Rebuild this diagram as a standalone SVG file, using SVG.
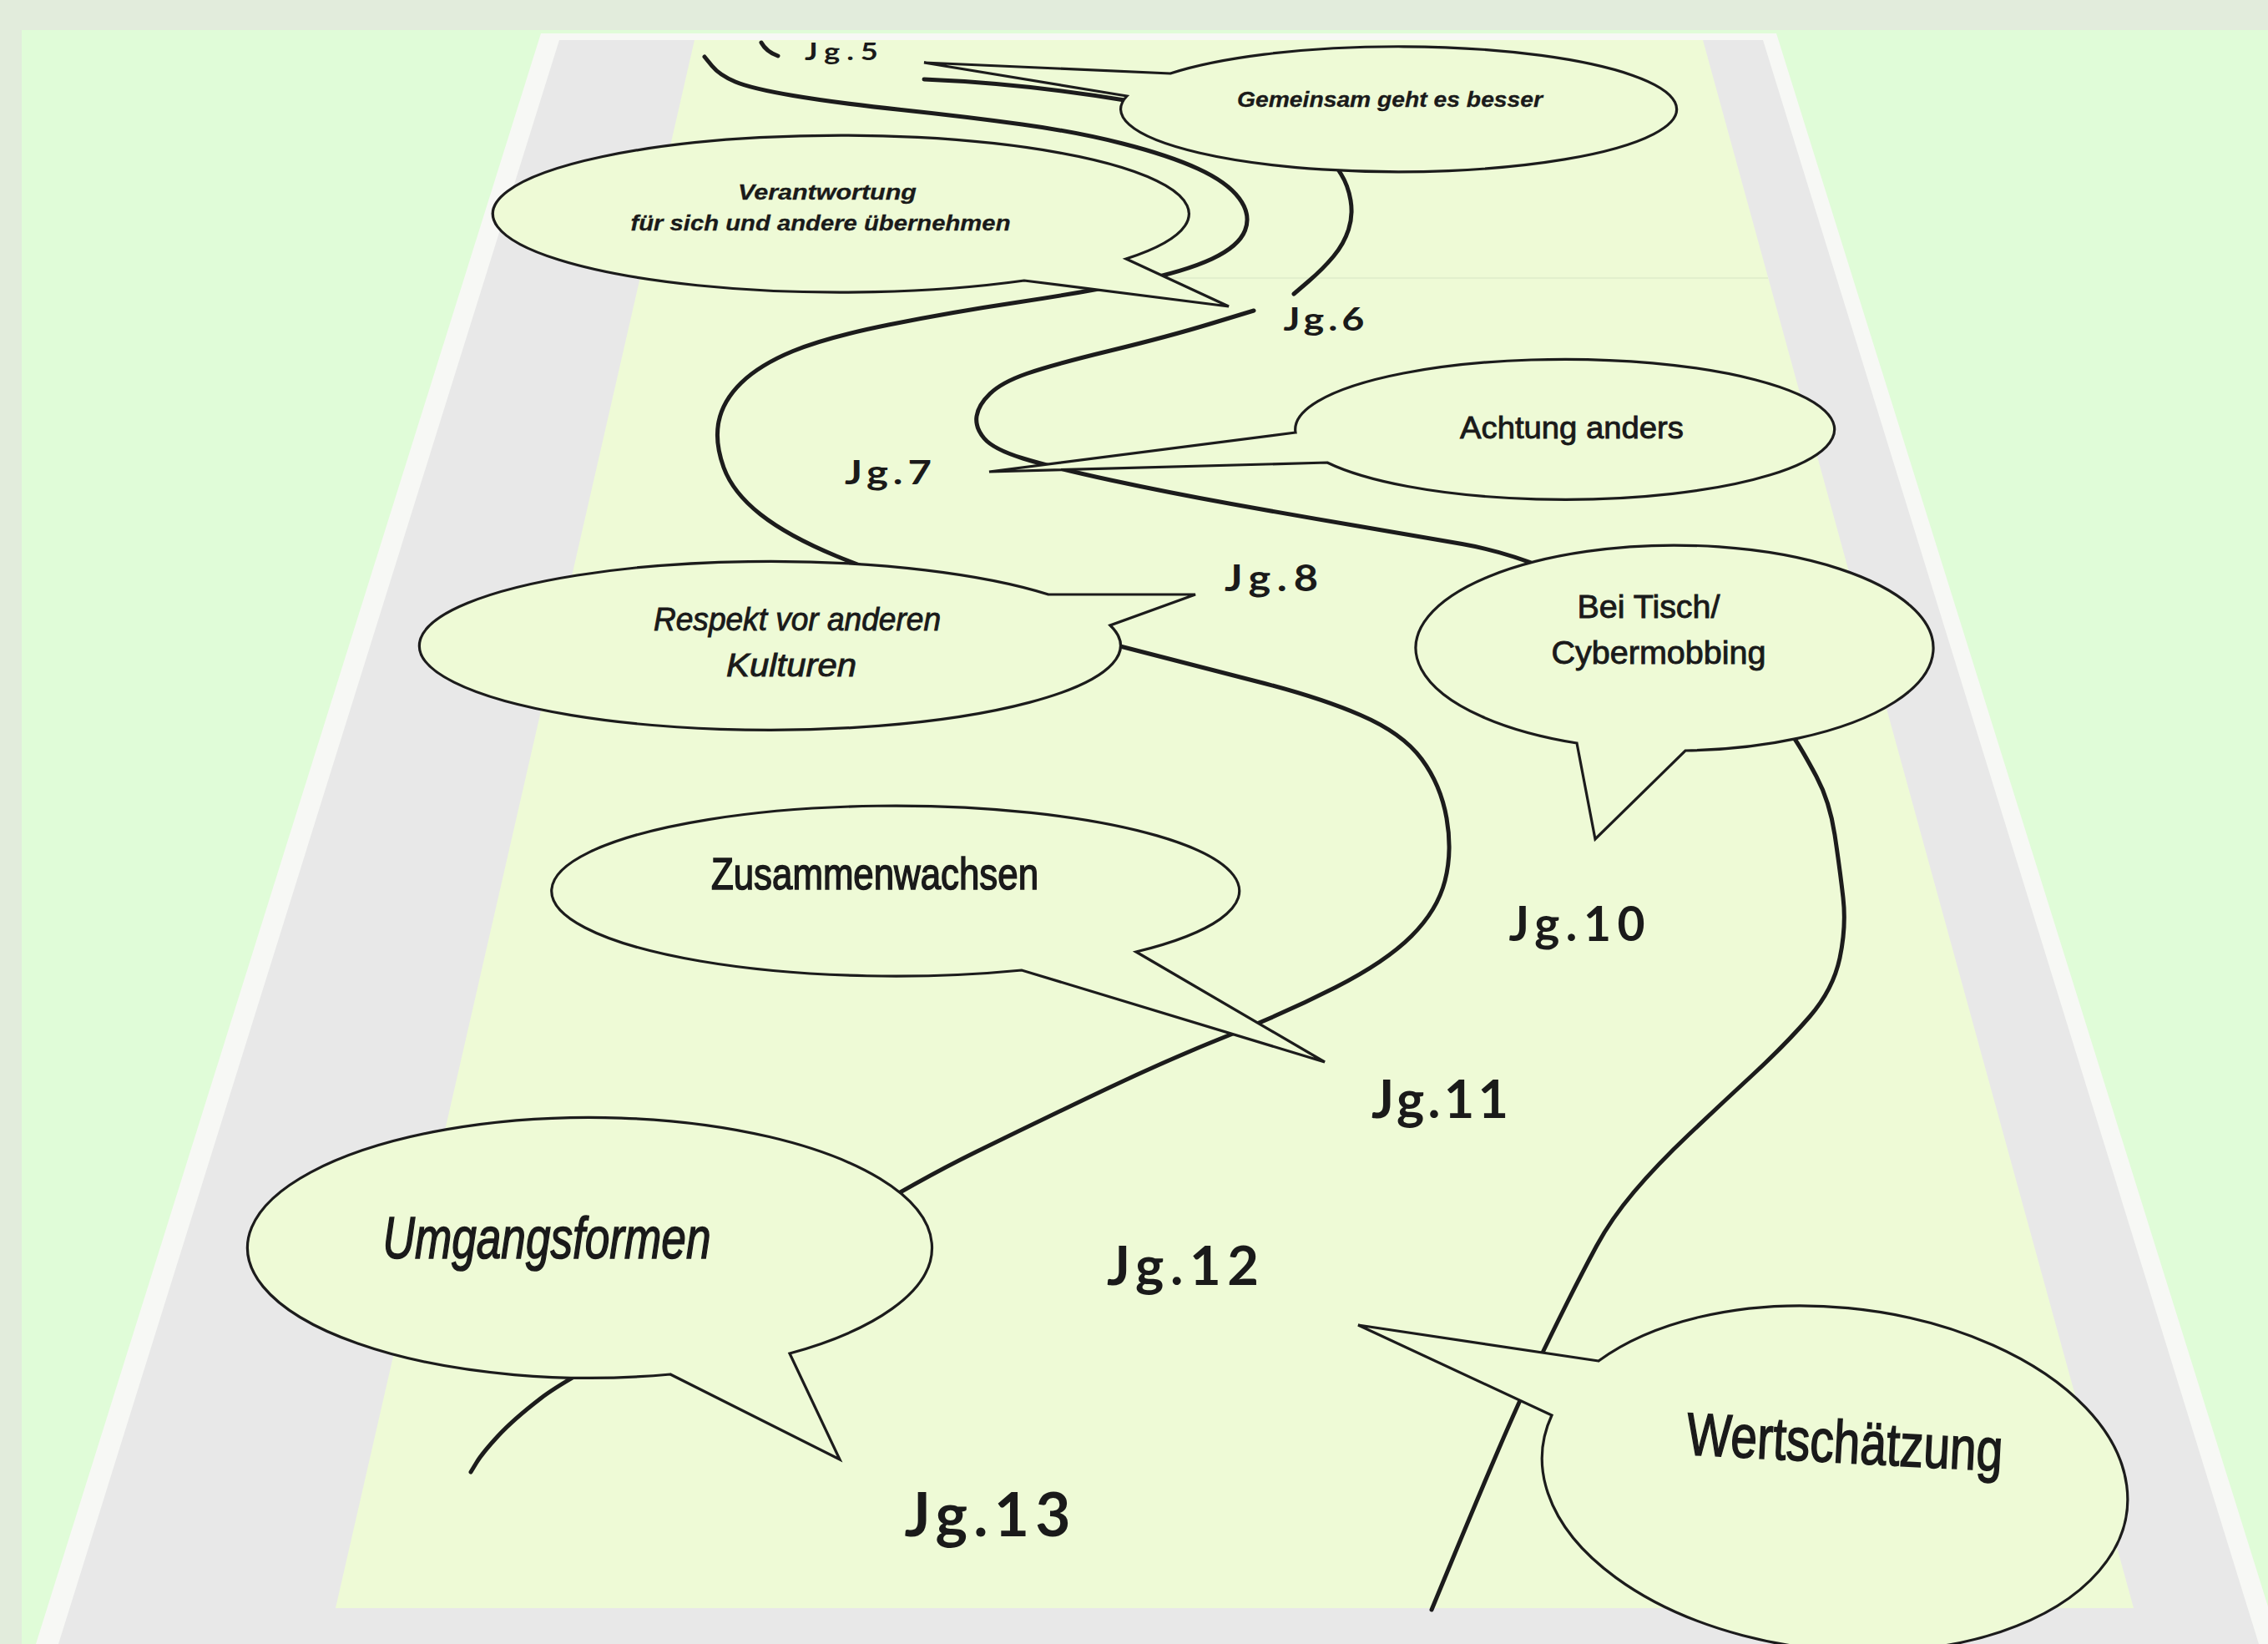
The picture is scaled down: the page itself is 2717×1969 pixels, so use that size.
<svg xmlns="http://www.w3.org/2000/svg" width="2717" height="1969" viewBox="0 0 2717 1969">
<defs>
<style>
.road{fill:none;stroke:#1c1c1c;stroke-width:5;stroke-linejoin:round;stroke-linecap:round}
.bub{fill:#eefad6;stroke:#1c1c1c;stroke-width:3.2;stroke-linejoin:miter}
.bt{font-family:"Liberation Sans",Arial,sans-serif;fill:#1a1a1a;text-anchor:middle;stroke:#1a1a1a}
.it{font-style:italic}
.bd{font-weight:bold;stroke-width:0.3}
.w1{stroke-width:0.9}
.w2{stroke-width:1.6}
.jg{font-family:Lato,"Open Sans","Liberation Sans",sans-serif;font-weight:700;fill:#1a1a1a;text-anchor:middle}
</style>
</defs>
<g id="background">
<rect x="0" y="0" width="2717" height="1969" fill="#e2ecdc"/>
<rect x="26" y="36" width="2691" height="1933" fill="#e0fcd8"/>
<polygon points="648,40 2128,40 2731,1969 43,1969" fill="#f7f8f5"/>
<polygon points="670,48 2112,48 2706,1969 70,1969" fill="#e8e8e8"/>
<polygon points="832,48 2040,48 2556,1926 402,1926" fill="#eefad6"/>
<line x1="767" y1="333" x2="2118" y2="333" stroke="#e2efcd" stroke-width="2"/>
</g>
<g id="connectors">
<path class="road" d="M912,51 Q918,62 932,67"/>
<path class="road" d="M844,68 L853,79 Q862,90 881,98 Q900,106 950,114.5 Q1000,123 1079.5,131.5 Q1159,140 1224.5,149 Q1290,158 1345,172 Q1400,186 1435,202 Q1470,218 1484.5,237.5 Q1499,257 1491.5,276 Q1484,295 1452,310 Q1420,325 1360,337.5 Q1300,350 1219.5,362 Q1139,374 1064.5,389 Q990,404 950,420.5 Q910,437 888,458.5 Q866,480 861,505 Q856,530 867,560 Q878,590 911,616 Q944,642 1002,666 Q1060,690 1155,720 Q1250,750 1342,774 Q1434,798 1507,816.5 Q1580,835 1630,856.5 Q1680,878 1703,909 Q1726,940 1733,980 Q1740,1020 1731,1055 Q1722,1090 1691,1121 Q1660,1152 1600,1182.5 Q1540,1213 1472,1240 Q1404,1267 1327,1303.5 Q1250,1340 1168.5,1380 Q1087,1420 983.5,1485 Q880,1550 780,1600 Q680,1650 647.5,1675 Q615,1700 596.5,1720 Q578,1740 571,1751.5 L564,1763"/>
<path class="road" d="M1107,95 Q1230,100 1360,122"/>
<path class="road" d="M1598,195 L1606.5,208.5 Q1615,222 1618,240 Q1621,258 1615.5,275 Q1610,292 1597.5,307 Q1585,322 1567.5,337 L1550,352"/>
<path class="road" d="M1502,372 L1451,387.5 Q1400,403 1330,420 Q1260,437 1230,447.5 Q1200,458 1186,471.5 Q1172,485 1170,498.5 Q1168,512 1179,525 Q1190,538 1225.5,549 Q1261,560 1330.5,575 Q1400,590 1475,603.5 Q1550,617 1626.5,630 Q1703,643 1751.5,651.5 Q1800,660 1850,680 L1900,700"/>
<path class="road" d="M2140,870 L2150,885 Q2160,900 2176,930 Q2192,960 2198,1000 Q2204,1040 2208,1075 Q2212,1110 2204,1147.5 Q2196,1185 2168,1217.5 Q2140,1250 2100.5,1286.5 Q2061,1323 2023,1359 Q1985,1395 1957.5,1427.5 Q1930,1460 1912.5,1492.5 Q1895,1525 1877.5,1560 Q1860,1595 1840,1636.5 Q1820,1678 1795,1736.5 Q1770,1795 1742.5,1861.5 L1715,1928"/>
</g>
<g id="bubble-gemeinsam">
<path class="bub" d="M1402,88 L1107,75 L1350,115 A333,75 0 1 0 1402,88 Z"/>
<text class="bt it bd" x="1665" y="128" font-size="26" textLength="366" lengthAdjust="spacingAndGlyphs">Gemeinsam geht es besser</text>
</g>
<g id="bubble-verantwortung">
<path class="bub" d="M1349,310 L1472,367 L1227,336 A417,94 0 1 1 1349,310 Z"/>
<text class="bt it bd" x="991" y="239" font-size="26" textLength="214" lengthAdjust="spacingAndGlyphs">Verantwortung</text>
<text class="bt it bd" x="983" y="276" font-size="26" textLength="455" lengthAdjust="spacingAndGlyphs">für sich und andere übernehmen</text>
</g>
<g id="bubble-achtung">
<path class="bub" d="M1552,518 L1185,565 L1590,554 A323,84 0 1 0 1552,518 Z"/>
<text class="bt w1" x="1883" y="525" font-size="37" textLength="268" lengthAdjust="spacingAndGlyphs">Achtung anders</text>
</g>
<g id="bubble-respekt">
<path class="bub" d="M1256,712 L1432,712 L1330,749 A420,101 0 1 1 1256,712 Z"/>
<text class="bt it w1" x="955" y="755" font-size="38" textLength="344" lengthAdjust="spacingAndGlyphs">Respekt vor anderen</text>
<text class="bt it w1" x="948" y="810" font-size="38" textLength="156" lengthAdjust="spacingAndGlyphs">Kulturen</text>
</g>
<g id="bubble-beitisch">
<path class="bub" d="M1889,890 L1911,1005 L2019,899 A310,123 0 1 0 1889,890 Z"/>
<text class="bt w1" x="1975" y="740" font-size="38" textLength="171" lengthAdjust="spacingAndGlyphs">Bei Tisch/</text>
<text class="bt w1" x="1987" y="795" font-size="38" textLength="257" lengthAdjust="spacingAndGlyphs">Cybermobbing</text>
</g>
<g id="bubble-zusammenwachsen">
<path class="bub" d="M1361,1140 L1587,1272 L1224,1162 A412,102 0 1 1 1361,1140 Z"/>
<text class="bt w2" x="1048" y="1065" font-size="54" textLength="392" lengthAdjust="spacingAndGlyphs">Zusammenwachsen</text>
</g>
<g id="bubble-umgangsformen">
<path class="bub" d="M946,1621 L1006,1748 L803,1646 A410,156 0 1 1 946,1621 Z"/>
<text class="bt it w2" x="655" y="1507" font-size="70" textLength="393" lengthAdjust="spacingAndGlyphs">Umgangsformen</text>
</g>
<g id="bubble-wertschaetzung">
<path class="bub" d="M1915,1630 L1627,1587 L1859,1695 A352,205 6 1 0 1915,1630 Z"/>
<text class="bt w2" x="2210" y="1752" font-size="72" textLength="379" lengthAdjust="spacingAndGlyphs" transform="rotate(3 2210 1730)">Wertschätzung</text>
</g>
<g id="labels">
<text id="jg5" class="jg" transform="translate(1008,72) scale(1.3,1)" x="0" y="0" font-size="28" textLength="67.7">Jg.5</text>
<text id="jg6" class="jg" transform="translate(1586,396) scale(1.2,1)" x="0" y="0" font-size="39" textLength="80.8">Jg.6</text>
<text id="jg7" class="jg" transform="translate(1064,580) scale(1.2,1)" x="0" y="0" font-size="41" textLength="86.7">Jg.7</text>
<text id="jg8" class="jg" transform="translate(1523,708) scale(1.15,1)" x="0" y="0" font-size="44" textLength="97.4">Jg.8</text>
<text id="jg10" class="jg" x="1889" y="1127" font-size="57" textLength="163">Jg.10</text>
<text id="jg11" class="jg" x="1725" y="1339" font-size="63" textLength="164">Jg.11</text>
<text id="jg12" class="jg" x="1417" y="1539" font-size="65" textLength="182">Jg.12</text>
<text id="jg13" class="jg" x="1183" y="1840" font-size="73" textLength="199">Jg.13</text>
</g>
</svg>
